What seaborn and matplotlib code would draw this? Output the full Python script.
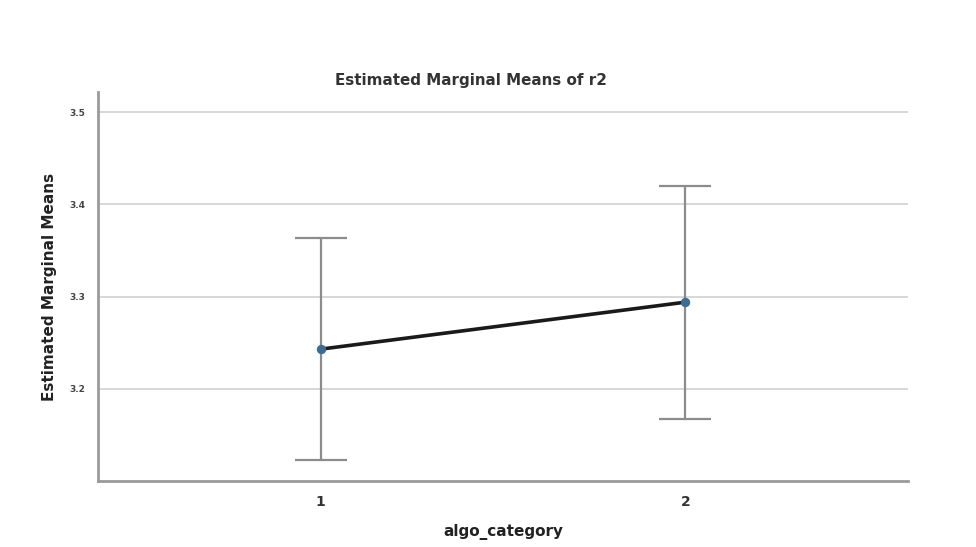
import matplotlib
matplotlib.use("Agg")
import matplotlib.pyplot as plt
import seaborn as sns
import pandas as pd

categories = [1, 2]
means = [3.243, 3.294]
ci_lower = [3.123, 3.167]
ci_upper = [3.364, 3.420]
yticks = [3.2, 3.3, 3.4, 3.5]

sns.set_theme(style="white")
plt.rcParams['font.family'] = ['DejaVu Sans']

df = pd.DataFrame({"algo_category": categories, "mean": means})

fig = plt.figure(figsize=(9.76, 5.47), dpi=100)
ax = fig.add_axes([0.1004, 0.1207, 0.8299, 0.7111])

for y in yticks:
    ax.axhline(y, color="#d4d4d4", lw=1.3, zorder=0)

err_low = [m - l for m, l in zip(means, ci_lower)]
err_high = [u - m for m, u in zip(means, ci_upper)]
ax.errorbar(categories, means, yerr=[err_low, err_high], fmt="none",
            ecolor="#8c8c8c", elinewidth=1.6, capsize=19, capthick=1.6, zorder=2)

sns.lineplot(data=df, x="algo_category", y="mean", ax=ax, color="#1a1a1a",
             lw=2.6, marker="o", markersize=6, markerfacecolor="#3d6d94",
             markeredgecolor="#3d6d94", zorder=3)

ax.set_xlim(0.39, 2.61)
ax.set_ylim(3.1, 3.522)
ax.set_xticks(categories)
ax.set_xticklabels([str(c) for c in categories], fontsize=10, fontweight="bold", color="#333333")
ax.set_yticks(yticks)
ax.set_yticklabels([f"{t:.1f}" for t in yticks], fontsize=6.5, fontweight="bold", color="#444444")
ax.tick_params(axis="x", length=0, pad=10)
ax.tick_params(axis="y", length=0, pad=9)

for s in ["top", "right"]:
    ax.spines[s].set_visible(False)
for s in ["left", "bottom"]:
    ax.spines[s].set_color("#9a9a9a")
    ax.spines[s].set_linewidth(2)

fig.text(471 / 976, 1 - 80 / 547, "Estimated Marginal Means of r2", fontsize=10.9,
         fontweight="bold", color="#333333", ha="center", va="center")
ax.set_xlabel("algo_category", fontsize=11, fontweight="bold", color="#222222", labelpad=11)
ax.set_ylabel("Estimated Marginal Means", fontsize=11, fontweight="bold", color="#222222", labelpad=9)

fig.savefig("out.png", dpi=100, facecolor="white")
